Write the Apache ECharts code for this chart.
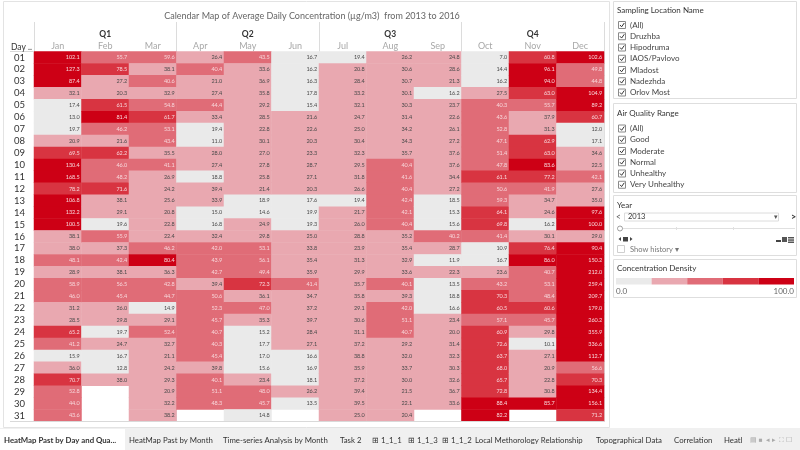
<!DOCTYPE html>
<html><head><meta charset="utf-8">
<script src="https://cdn.jsdelivr.net/npm/echarts@6/dist/echarts.min.js"></script>
<style>html,body{margin:0;padding:0;background:#fff;}#c{width:800px;height:450px;}</style>
</head><body><div id="c"></div>
<script>
const months = ['Jan','Feb','Mar','Apr','May','Jun','Jul','Aug','Sep','Oct','Nov','Dec'];
const quarters = ['Q1','Q2','Q3','Q4'];
const days = ['01','02','03','04','05','06','07','08','09','10','11','12','13','14','15','16','17','18','19','20','21','22','23','24','25','26','27','28','29','30','31'];

const jan = [102.1,127.3,87.4,32.1,17.4,13.0,19.7,20.9,69.5,130.4,168.5,78.2,106.8,132.2,100.5,38.1,38.0,48.1,28.9,58.9,46.0,31.2,28.5,65.2,41.2,15.9,36.0,70.7,52.8,44.0,43.6];
const feb = [55.7,78.5,27.2,20.3,61.5,81.4,46.2,21.6,62.2,46.0,48.2,71.6,38.1,29.1,19.6,55.9,37.3,42.4,38.1,56.5,45.4,26.0,29.8,19.7,24.7,16.7,12.8,38.0,null,null,null];
const mar = [59.6,38.1,40.6,32.9,54.8,61.7,53.1,43.4,35.5,41.1,26.9,24.2,25.6,20.8,22.8,22.4,46.2,80.4,36.3,42.8,44.7,14.9,29.1,52.4,32.7,21.1,24.2,29.3,20.9,32.2,38.2];
const apr = [26.4,40.4,21.0,27.4,44.4,33.4,19.4,11.0,28.0,27.4,18.8,39.4,33.9,15.0,16.8,32.4,42.0,43.9,42.7,39.4,50.6,52.3,45.7,40.7,40.3,45.4,39.8,40.1,51.1,48.3,null];
const may = [43.5,33.6,36.9,35.8,29.2,28.5,22.8,30.1,27.0,27.8,25.8,21.4,18.9,14.6,24.9,29.8,53.1,56.1,49.4,72.3,36.1,47.0,35.3,15.2,17.7,17.0,15.6,23.4,48.0,45.7,14.8];
const jun = [16.7,16.2,16.3,17.8,15.4,21.6,22.6,20.3,23.3,28.7,27.1,20.3,17.6,19.9,19.3,25.0,33.8,35.4,35.9,41.4,34.7,37.2,39.7,28.4,27.1,16.6,16.9,18.1,26.2,13.5,null];
const jul = [19.4,20.8,28.4,33.2,32.1,24.7,25.0,30.4,32.3,29.5,31.8,26.6,19.4,21.7,26.0,28.8,23.9,31.3,29.9,35.7,35.8,29.1,30.6,31.1,37.2,38.8,35.9,37.2,39.4,39.5,25.0];
const aug = [26.2,30.6,30.7,30.1,30.3,31.4,34.2,34.3,35.7,40.4,41.6,40.4,42.4,42.1,40.4,35.2,35.4,32.9,33.6,40.1,39.3,42.0,51.1,40.7,29.2,32.0,33.7,30.0,21.5,22.1,20.4];
const sep = [24.8,28.6,21.3,16.2,23.7,22.6,26.1,27.2,37.6,37.6,34.4,27.2,18.5,15.3,15.6,40.2,28.7,11.9,22.3,13.5,18.8,16.6,23.4,20.0,31.4,32.3,30.3,32.6,36.7,33.6,null];
const oct = [7.0,14.4,16.2,27.5,40.3,43.6,52.8,47.1,51.4,47.8,61.1,50.6,59.3,64.1,69.8,41.4,10.9,16.7,23.6,43.2,70.3,60.5,57.1,60.9,72.6,63.7,68.0,65.7,72.8,88.4,82.2];
const nov = [60.8,96.1,94.0,63.0,55.7,37.9,31.3,62.9,63.0,83.6,77.2,41.9,34.7,24.6,16.2,30.1,76.4,86.0,40.7,53.1,48.4,60.6,45.7,29.8,10.1,27.1,20.9,22.8,30.8,85.7,null];
const dec = [102.6,49.8,44.8,104.9,89.2,60.7,12.0,17.1,34.6,22.5,42.1,27.6,35.0,97.6,100.0,29.0,90.4,150.2,212.0,259.4,209.7,179.0,260.2,355.9,336.6,112.7,56.6,70.3,134.4,156.1,71.2];

const locations = ['(All)','Druzhba','Hipodruma','IAOS/Pavlovo','Mladost','Nadezhda','Orlov Most'];
const ranges = ['(All)','Good','Moderate','Normal','Unhealthy','Very Unhealthy'];
const tabs = ['HeatMap Past by Day and Qua...','HeatMap Past by Month','Time-series Analysis by Month','Task 2','\u229e 1_1_1','\u229e 1_1_3','\u229e 1_1_2','Local Methorology Relationship','Topographical Data','Correlation','Heatl'];
const binEdges = [20,40,60,80];
const binColors = ['#eaeaea','#e9a8b0','#e06c77','#d83441','#cd0015'];

const FONT = 'Lato, "Open Sans", sans-serif';
const monthData = [jan,feb,mar,apr,may,jun,jul,aug,sep,oct,nov,dec];
const data = [];
monthData.forEach((arr, m) => arr.forEach((v, d) => { if (v !== null) data.push([m, d, v]); }));

const pieces = [
  {lt: binEdges[0], color: binColors[0]},
  {gte: binEdges[0], lt: binEdges[1], color: binColors[1]},
  {gte: binEdges[1], lt: binEdges[2], color: binColors[2]},
  {gte: binEdges[2], lt: binEdges[3], color: binColors[3]},
  {gte: binEdges[3], color: binColors[4]}
];

const G = [];
function txt(x, y, t, o) {
  o = o || {};
  G.push({type:'text', x:x, y:y, silent:true, z:o.z||10, style:{text:t, fontSize:o.size||9, fill:o.color||'#333', fontFamily:FONT, fontWeight:o.weight||'normal', align:o.align||'left', verticalAlign:'middle'}});
}
function rect(x, y, w, h, fill, stroke, z) {
  G.push({type:'rect', silent:true, z:z||1, shape:{x:x,y:y,width:w,height:h}, style:{fill:fill||'none', stroke:stroke||null, lineWidth:stroke?1:0}});
}
function line(x1, y1, x2, y2, c, z) {
  G.push({type:'line', silent:true, z:z||5, shape:{x1:x1,y1:y1,x2:x2,y2:y2}, style:{stroke:c||'#ddd', lineWidth:1}});
}
function checkbox(x, y) {
  rect(x+0.5, y-3.5, 7, 7, '#fff', '#8a8a8a', 6);
  G.push({type:'polyline', silent:true, z:7, shape:{points:[[x+2,y],[x+3.6,y+1.8],[x+6.3,y-2]]}, style:{stroke:'#333', lineWidth:1, fill:null}});
}

// main frame and table separators
rect(3.5, 1.5, 606, 426, null, '#e3e3e3', 1);
line(10, 51.5, 34, 51.5, '#d9d9d9');
line(10, 421.5, 604, 421.5, '#d9d9d9');
txt(11, 47, 'Day ..', {size:8.5, color:'#333'});

// side panels
const PX = 613.5, PW = 183;
rect(PX, 1.5, PW, 97, '#fff', '#dedede');
txt(617, 10, 'Sampling Location Name', {size:8, color:'#333'});
locations.forEach((n, i) => { const y = 25 + i*11.25; checkbox(618, y); txt(630, y, n, {size:8, color:'#444'}); });
rect(PX, 103.5, PW, 89, '#fff', '#dedede');
txt(617, 113, 'Air Quality Range', {size:8, color:'#333'});
ranges.forEach((n, i) => { const y = 128.5 + i*11.25; checkbox(618, y); txt(630, y, n, {size:8, color:'#444'}); });
rect(PX, 195.5, PW, 60, '#fff', '#dedede');
txt(617, 205, 'Year', {size:8, color:'#333'});
txt(616, 217, '<', {size:8.5, color:'#555'});
rect(624.5, 213, 154, 8, '#fff', '#dcdcdc', 6);
txt(628, 217, '2013', {size:7.5, color:'#333'});
txt(774, 217, '\u25be', {size:7, color:'#555'});
txt(791, 217, '>', {size:9, color:'#333', weight:'bold'});
line(617, 228.5, 795, 228.5, '#e0e0e0');
line(676.5, 227, 676.5, 230, '#e0e0e0'); line(733.5, 227, 733.5, 230, '#e0e0e0');
G.push({type:'circle', silent:true, z:7, shape:{cx:620, cy:228.5, r:2.5}, style:{fill:'#fff', stroke:'#888', lineWidth:0.8}});
G.push({type:'polygon', silent:true, z:7, shape:{points:[[621,237],[621,241],[618.5,239]]}, style:{fill:'#444'}});
rect(623, 237, 5, 4.5, '#444', null, 7);
G.push({type:'polygon', silent:true, z:7, shape:{points:[[630,237],[630,241],[632.5,239]]}, style:{fill:'#444'}});
rect(776, 240, 5, 2, '#444', null, 7);
rect(782, 237, 5, 5, '#555', null, 7);
rect(788, 237, 6, 1.5, '#555', null, 7); rect(788, 239.3, 6, 1.5, '#555', null, 7); rect(788, 241.5, 6, 1.5, '#555', null, 7);
rect(617.5, 245.5, 7, 7, '#fff', '#cfcfcf', 6);
txt(630, 249.5, 'Show history \u25be', {size:7.5, color:'#777'});
rect(PX, 259.5, PW, 38, '#fff', '#dedede');
txt(617, 268.5, 'Concentration Density', {size:8, color:'#333'});
txt(616, 291, '0.0', {size:8, color:'#666'});
txt(794, 291, '100.0', {size:8, color:'#666', align:'right'});

// tab bar
rect(0, 428, 800, 22, '#f0f0f0', null, 1);
rect(0, 429, 125, 21, '#fff', null, 2);
const tabX = [4,129,223,340,372,408,442,475,596,674,724];
tabs.forEach((t, i) => txt(tabX[i], 440, t, {size:7.8, color:'#333', weight: i===0?'bold':'normal'}));
txt(750, 440, '\u25a4 \u25a0  \u25c2 \u25b8  \u26f6 \u2610', {size:6.5, color:'#aaa'});

const chart = echarts.init(document.getElementById('c'), null, {renderer:'canvas'});
chart.setOption({
  animation: false,
  backgroundColor: '#fff',
  title: {
    text: 'Calendar Map of Average Daily Concentration (\u00b5g/m3)  from 2013 to 2016',
    left: 307, top: 7, textAlign: 'center',
    textStyle: {fontSize: 9, fontWeight: 'normal', color: '#666', fontFamily: FONT}
  },
  grid: {left: 34, top: 51.5, width: 570, height: 370, outerBoundsMode: 'none', containLabel: false},
  xAxis: [
    {type:'category', data: months, position:'top', axisLine:{show:false}, axisTick:{show:false},
     axisLabel:{color:'#a8a8a8', fontSize:9, margin:1, fontFamily:FONT}, splitLine:{show:false}},
    {type:'category', data: quarters, position:'top', axisLine:{show:false},
     axisTick:{show:true, length:29.5, lineStyle:{color:'#dcdcdc'}},
     axisLabel:{color:'#333', fontSize:8.5, fontWeight:'bold', margin:13, fontFamily:FONT},
     splitLine:{show:true, lineStyle:{color:'#dcdcdc', width:1}}}
  ],
  yAxis: {type:'category', data: days, inverse: true, axisLine:{show:false}, axisTick:{show:false},
    axisLabel:{color:'#333', fontSize:9.5, margin:9, interval:0, fontFamily:FONT}, splitLine:{show:false}},
  visualMap: {
    type:'piecewise', seriesIndex:0, dimension:2, pieces: pieces, orient:'horizontal',
    left: 616, top: 278, itemWidth: 35.6, itemHeight: 6.5, itemGap: 0, padding: 0,
    showLabel: false, itemSymbol: 'rect', selectedMode: false, hoverLink: false
  },
  series: [{
    type: 'heatmap', xAxisIndex: 0, yAxisIndex: 0, data: data,
    itemStyle: {borderWidth: 0},
    emphasis: {disabled: true},
    label: {
      show: true, position: 'insideRight', distance: 2, fontSize: 5.5, fontFamily: FONT,
      formatter: p => (p.value[2] >= binEdges[1] ? '{w|' : '{d|') + p.value[2].toFixed(1) + '}',
      rich: {w: {color:'#f7d6da', fontSize:5.5, fontFamily:FONT}, d: {color:'#4a4a4a', fontSize:5.5, fontFamily:FONT}}
    }
  }],
  graphic: G
});
</script></body></html>
